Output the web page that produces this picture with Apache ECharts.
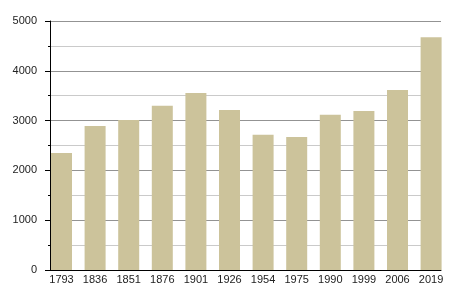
<!DOCTYPE html>
<html><head><meta charset="utf-8">
<script src="https://cdn.jsdelivr.net/npm/echarts@6/dist/echarts.min.js"></script>
<style>html,body{margin:0;padding:0;background:#fff}#c{width:450px;height:300px}</style>
</head><body><div id="c"></div>
<script>
const categories = ['1793','1836','1851','1876','1901','1926','1954','1975','1990','1999','2006','2019'];
const values = [2350, 2890, 3010, 3300, 3555, 3215, 2715, 2670, 3115, 3195, 3615, 4675];
const yTicks = [0, 1000, 2000, 3000, 4000, 5000];

const chart = echarts.init(document.getElementById('c'));
const font = 'Liberation Sans, Arial, sans-serif';
chart.setOption({
  animation: false,
  backgroundColor: '#fff',
  grid: [
    {left: 50, right: 9, top: 21, bottom: 30},
    {left: 44.7, right: 2.1, top: 21, bottom: 30}
  ],
  xAxis: [
    {gridIndex: 0, type: 'category', data: categories, axisLabel: {show: false}, axisTick: {show: false},
     splitLine: {show: false}, axisLine: {lineStyle: {color: '#000', width: 1}}, z: 5},
    {gridIndex: 1, type: 'category', data: categories, axisLine: {show: false}, axisTick: {show: false},
     axisLabel: {fontFamily: font, fontSize: 11, color: '#222', margin: 4}}
  ],
  yAxis: [
    {gridIndex: 0, type: 'value', min: yTicks[0], max: yTicks[yTicks.length-1], interval: 1000,
     axisLine: {show: true, lineStyle: {color: '#000'}},
     axisTick: {show: true, length: 5, lineStyle: {color: '#000'}},
     minorTick: {show: true, splitNumber: 2, length: 2, lineStyle: {color: '#000'}},
     splitLine: {lineStyle: {color: '#939393'}},
     minorSplitLine: {show: true, lineStyle: {color: '#cacaca'}},
     axisLabel: {fontFamily: font, fontSize: 11, color: '#222', margin: 13, formatter: v => String(v)}},
    {gridIndex: 1, type: 'value', min: yTicks[0], max: yTicks[yTicks.length-1], show: false, splitLine: {show: false}}
  ],
  series: [{
    type: 'bar', xAxisIndex: 1, yAxisIndex: 1, data: values, barWidth: 21,
    itemStyle: {color: '#ccc39b'}, z: 3
  }]
});
</script></body></html>
